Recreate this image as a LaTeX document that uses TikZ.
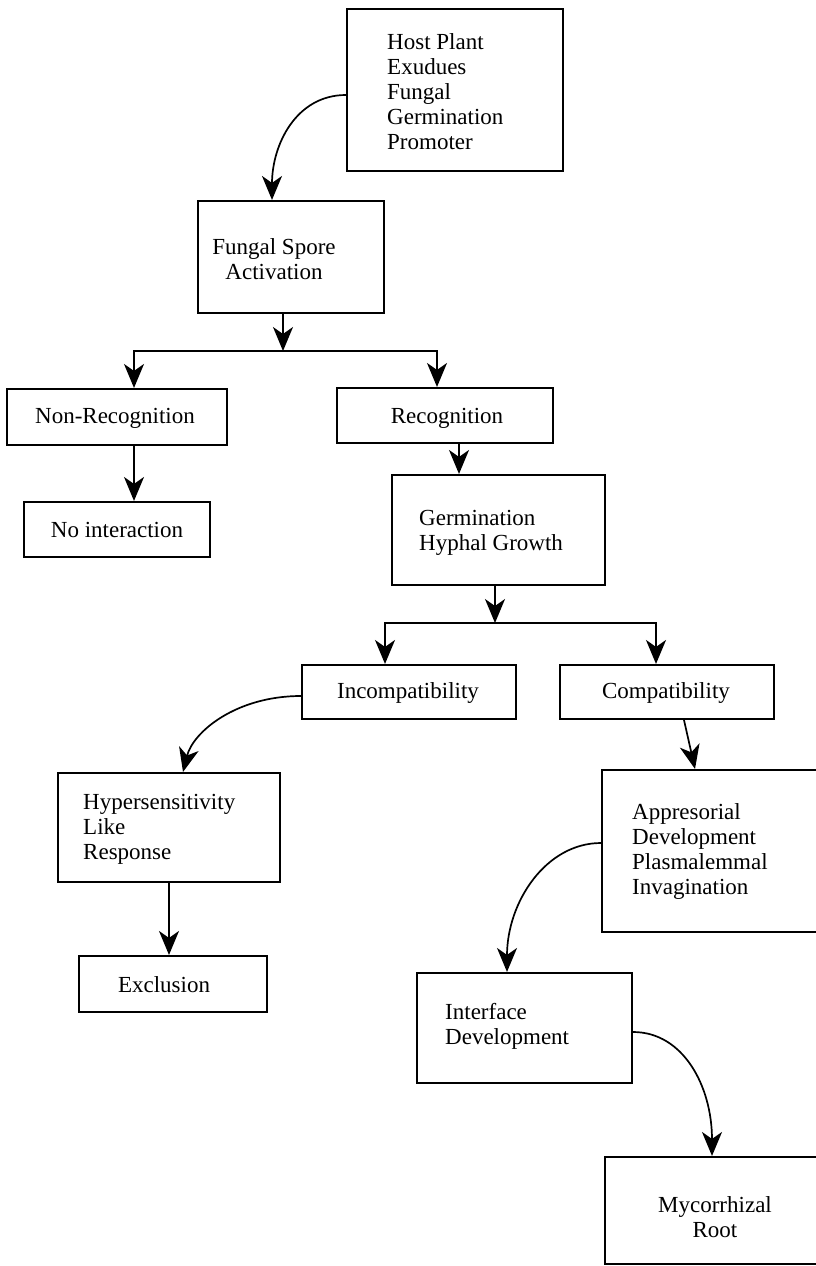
\documentclass[tikz,border=0pt]{standalone}
\usepackage{fontspec}
\setmainfont{Liberation Serif}
\usetikzlibrary{arrows.meta}
\begin{document}
\begin{tikzpicture}[x=1pt,y=-1pt,
  box/.style={draw, line width=2.1pt, inner sep=0pt, rectangle},
  txt/.style={font=\fontsize{23}{25}\selectfont, inner sep=0pt, align=left},
  ctxt/.style={font=\fontsize{23}{25}\selectfont, inner sep=0pt, align=center},
  arr/.style={line width=1.7pt, -{Stealth[length=24pt,width=20pt,inset=7pt]}}]
\useasboundingbox (0,0) rectangle (816,1266);
\clip (0,0) rectangle (816,1266);
\fill[white] (0,0) rectangle (816,1266);

% boxes
\node[box, minimum width=216pt, minimum height=162pt] (host) at (455,90) {};
\node[txt, anchor=west] (thost) at (387,92) {Host Plant\\Exudues\\Fungal\\Germination\\Promoter};

\node[box, minimum width=186pt, minimum height=112pt] (fungal) at (291,257) {};
\node[ctxt] (tfungal) at (274,259.5) {Fungal Spore\\Activation};

\node[box, minimum width=220pt, minimum height=56pt] (nonrec) at (117,417) {};
\node[ctxt] (tnonrec) at (115,418) {Non-Recognition};

\node[box, minimum width=216pt, minimum height=55pt] (rec) at (445,415.5) {};
\node[ctxt] (trec) at (447,418) {Recognition};

\node[box, minimum width=186pt, minimum height=55pt] (noint) at (117,529.5) {};
\node[ctxt] (tnoint) at (117,530) {No interaction};

\node[box, minimum width=213pt, minimum height=110pt] (germ) at (498.5,530) {};
\node[txt, anchor=west] (tgerm) at (419,533) {Germination\\Hyphal Growth};

\node[box, minimum width=214pt, minimum height=54pt] (incomp) at (409,692) {};
\node[ctxt] (tincomp) at (408,693) {Incompatibility};

\node[box, minimum width=214pt, minimum height=54pt] (comp) at (667,692) {};
\node[ctxt] (tcomp) at (666,693) {Compatibility};

\node[box, minimum width=222pt, minimum height=109pt] (hyper) at (169,827.5) {};
\node[txt, anchor=west] (thyper) at (83,829) {Hypersensitivity\\Like\\Response};

\node[box, minimum width=224pt, minimum height=162pt] (appres) at (714,851) {};
\node[txt, anchor=west] (tappres) at (632,851) {Appresorial\\Development\\Plasmalemmal\\Invagination};

\node[box, minimum width=188pt, minimum height=56pt] (excl) at (173,984) {};
\node[ctxt] (texcl) at (164,985) {Exclusion};

\node[box, minimum width=215pt, minimum height=110pt] (iface) at (524.5,1028) {};
\node[txt, anchor=west] (tiface) at (445,1026) {Interface\\Development};

\node[box, minimum width=221pt, minimum height=107pt] (myco) at (715.5,1210.5) {};
\node[ctxt] (tmyco) at (715,1217) {Mycorrhizal\\Root};

% connectors
\draw[arr] ([yshift=-5pt]host.west) .. controls +(-50,0) and +(0,-55) .. ([xshift=-19pt]fungal.north);

\coordinate (s1) at (283,351);
\draw[arr] (fungal.south -| s1) -- (s1);
\draw[arr] (s1) -| ([xshift=17pt]nonrec.north);
\draw[arr] (s1) -| ([xshift=-8pt]rec.north);

\draw[arr] ([xshift=17pt]nonrec.south) -- ([xshift=17pt]noint.north);
\draw[arr] ([xshift=14pt]rec.south) -- ([xshift=-39.5pt]germ.north);

\coordinate (s2) at (495,623);
\draw[arr] (germ.south -| s2) -- (s2);
\draw[arr] (s2) -| ([xshift=-24pt]incomp.north);
\draw[arr] (s2) -| ([xshift=-11pt]comp.north);

\draw[arr] ([yshift=-4pt]incomp.west) .. controls +(-65,0) and +(10,-40) .. ([xshift=14pt]hyper.north);
\draw[arr] ([xshift=17pt]comp.south) -- ([xshift=-19pt]appres.north);

\draw[arr] (hyper.south) -- (hyper.south |- excl.north);

\draw[arr] ([yshift=8pt]appres.west) .. controls +(-55,0) and +(0,-70) .. ([xshift=-17.5pt]iface.north);
\draw[arr] ([yshift=-4pt]iface.east) .. controls +(50,0) and +(0,-70) .. ([xshift=-3.5pt]myco.north);
\end{tikzpicture}
\end{document}
